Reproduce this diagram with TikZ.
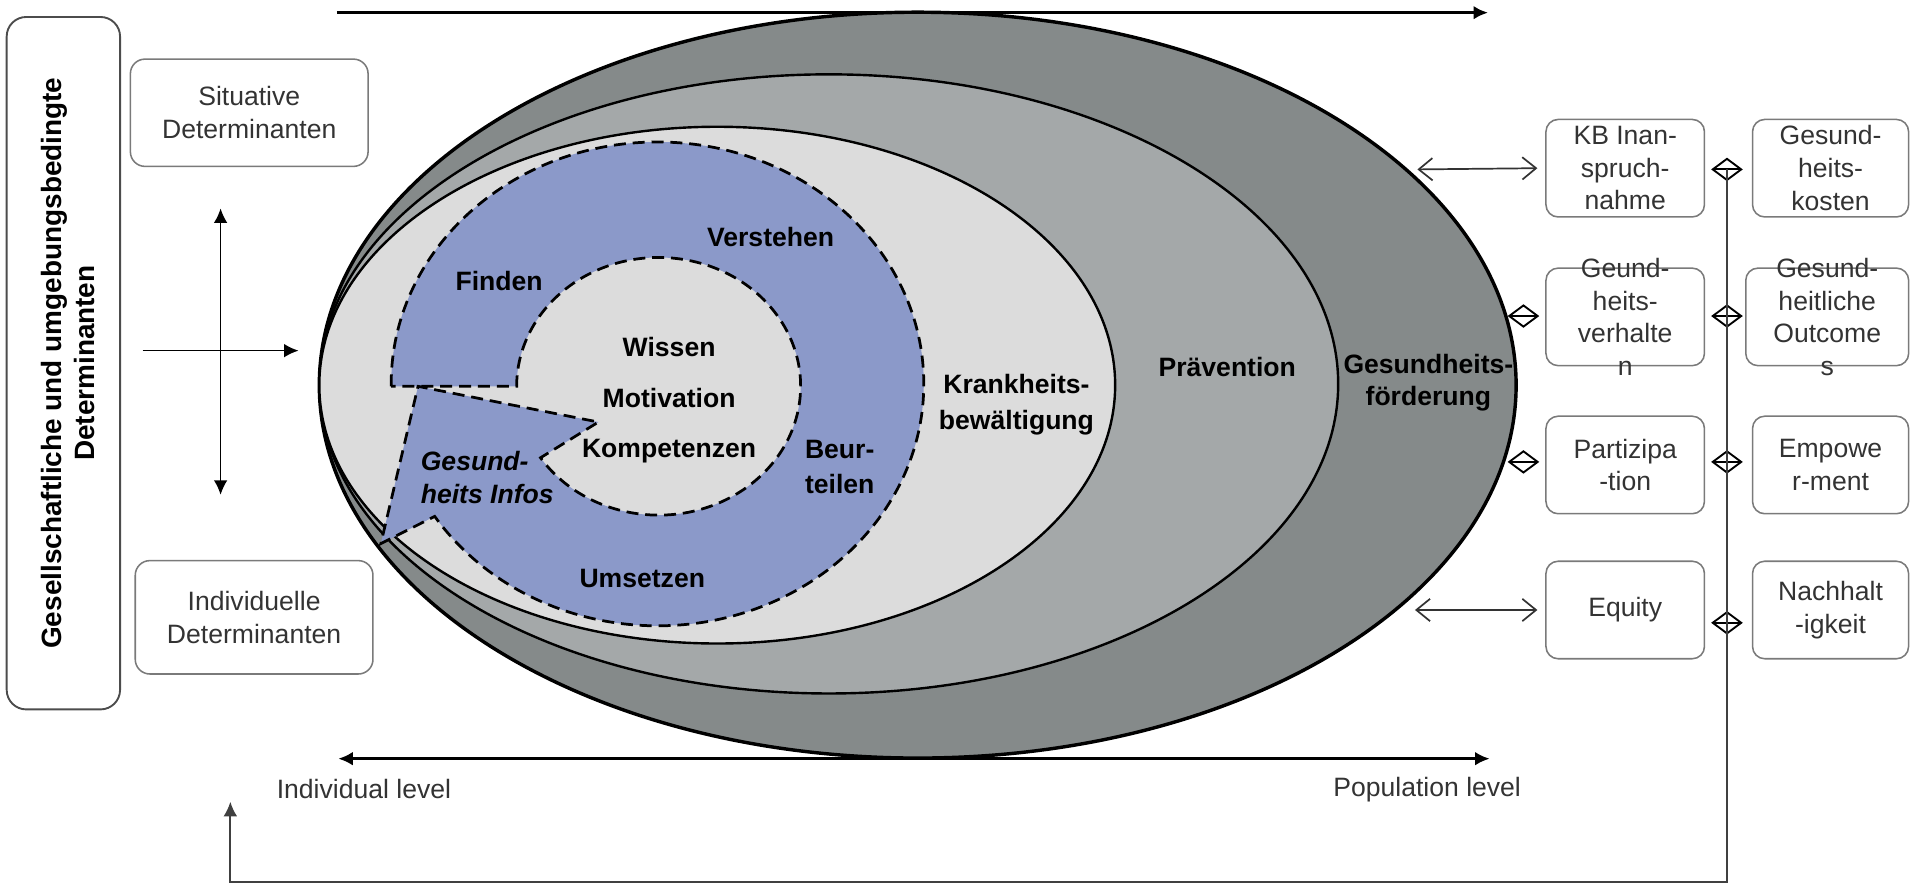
\documentclass[tikz,border=0pt]{standalone}
\usepackage{fontspec}
\setmainfont{Liberation Sans}
\usetikzlibrary{arrows.meta,shapes.geometric,positioning}

\definecolor{dgray}{HTML}{858A8A}
\definecolor{mgray}{HTML}{A4A8A9}
\definecolor{lgray}{HTML}{DCDCDC}
\definecolor{ringblue}{HTML}{8B99C9}
\definecolor{txtgray}{HTML}{333333}
\definecolor{boxgray}{HTML}{7A7A7A}

\begin{document}
\begin{tikzpicture}[x=0.025cm, y=-0.025cm,
        lbox/.style   = {draw=boxgray, line width=0.9pt, rounded corners=0.3cm, minimum width=4.875cm, minimum height=2.2cm, align=center, text=txtgray, font=\fontsize{15.5}{19.1}\selectfont},
        rbox/.style   = {draw=boxgray, line width=0.9pt, rounded corners=0.25cm, minimum width=3.25cm, minimum height=2cm, inner sep=0pt},
        rtext/.style  = {align=center, text=txtgray, font=\fontsize{15.5}{19.1}\selectfont, inner sep=0pt},
        bold label/.style = {align=center, font=\bfseries\fontsize{15.5}{19.1}\selectfont, inner sep=0pt},
        level text/.style = {text=txtgray, font=\fontsize{15.5}{19.1}\selectfont, inner sep=0pt},
        dmark/.style  = {draw, diamond, line width=1.1pt, minimum width=0.6cm, minimum height=0.45cm, inner sep=0pt,
                         path picture={\draw[line width=1.1pt] (path picture bounding box.west) -- (path picture bounding box.east);}},
        axis/.style   = {line width=1.75pt},
        thinarr/.style = {line width=1pt},
        openarr/.style = {line width=1pt, draw=txtgray, {Straight Barb[length=8pt,width=13pt]}-{Straight Barb[length=8pt,width=13pt]}},
        fbline/.style = {line width=1.2pt, draw=black!75},
        >={Latex[length=8.5pt,width=8pt]}]

        \useasboundingbox (0,0) rectangle (1568,725);

        % gray ellipses, all touching at the left
        \filldraw[fill=dgray, line width=2pt] (753,316) ellipse [x radius=491, y radius=306];
        \filldraw[fill=mgray, line width=1.4pt] (680,315) ellipse [x radius=418, y radius=254];
        \filldraw[fill=lgray, line width=1.4pt] (588.5,316) ellipse [x radius=326.5, y radius=212];

        % blue ring arrow
        \filldraw[fill=ringblue, line width=1.6pt, dash pattern=on 7pt off 4pt]
            (321,317) arc[start angle=179.42, end angle=506.8, x radius=218.5, y radius=198.5]
            -- (312.5,446) -- (343,317) -- (491,346.3) -- (443.5,375.6)
            arc[start angle=506.3, end angle=180, x radius=116.5, y radius=105.7] -- cycle;

        % labels in the ring
        \node[bold label] (finden) at (409.5,230.2) {Finden};
        \node[bold label] (verst) at (632.3,194.3) {Verstehen};
        \node[bold label, font=\bfseries\fontsize{15.5}{29.4}\selectfont] (wmk) at (549,328.5) {Wissen\\Motivation\\Kompetenzen};
        \node[bold label, align=left, font=\bfseries\fontsize{15.5}{20.2}\selectfont] (beur) at (689,383) {Beur-\\teilen};
        \node[bold label, align=left, anchor=west, font=\bfseries\itshape\fontsize{15.5}{19.4}\selectfont] (infos) at (345,392) {Gesund-\\heits Infos};
        \node[bold label] (umsetz) at (527,475) {Umsetzen};

        % labels of the ellipses
        \node[bold label, font=\bfseries\fontsize{15.5}{21.3}\selectfont] (krank) at (834,332) {Krankheits-\\bewältigung};
        \node[bold label] (praev) at (1007,301) {Prävention};
        \node[bold label] (foerd) at (1172,314) {Gesundheits-\\förderung};

        % determinants on the left
        \node[draw=black!70, line width=1.1pt, rounded corners=0.4cm, minimum width=14.2cm, minimum height=2.325cm, rotate=90] (gesell) at (52,298) {};
        \node[rotate=90, align=center, inner sep=0pt, font=\bfseries\fontsize{16.3}{19.4}\selectfont] (gesellT) at (56,298) {Gesellschaftliche und umgebungsbedingte\\Determinanten};
        \node[lbox] (situ) at (204.5,92.5) {Situative\\Determinanten};
        \node[lbox, minimum height=2.325cm] (indiv) at (208.5,506.5) {Individuelle\\Determinanten};

        \coordinate (crossL) at (117,287.7);
        \coordinate (crossR) at (245,287.7);
        \coordinate (crossT) at (181,171);
        \coordinate (crossB) at (181,406);
        \draw[thinarr, ->] (crossL) -- (crossR);
        \draw[thinarr, <->] (crossT) -- (crossB);

        % individual and population axis
        \coordinate (topL) at (276.5,10.4);
        \coordinate (topR) at (1221,10.4);
        \draw[axis, ->] (topL) -- (topR);
        \coordinate (levL) at (277.5,622.5);
        \coordinate (levR) at (1222.3,622.5);
        \draw[axis, <->] (levL) -- (levR);
        \node[level text] (indlev) at (298.6,647.5) {Individual level};
        \node[level text] (poplev) at (1171,647.5) {Population level};

        % outcomes on the right
        \node[rbox, label={[rtext]center:{KB Inan-\\spruch-\\nahme}}] (inan) at (1333.5,138) {};
        \node[rbox, label={[rtext]center:{Geund-\\heits-\\verhalte\\n}}] (verh) at (1333.5,260) {};
        \node[rbox, label={[rtext]center:{Partizipa\\-tion}}] (partiz) at (1333.5,381.5) {};
        \node[rbox, label={[rtext]center:{Equity}}] (equity) at (1333.5,500.5) {};

        \node[rbox, minimum width=3.2cm, label={[rtext]center:{Gesund-\\heits-\\kosten}}] (kost) at (1502,138) {};
        \node[rbox, minimum width=3.34cm, label={[rtext]center:{Gesund-\\heitliche\\Outcome\\s}}] (outc) at (1499.25,260) {};
        \node[rbox, minimum width=3.2cm, label={[rtext]center:{Empowe\\r-ment}}] (empow) at (1502,381.5) {};
        \node[rbox, minimum width=3.2cm, label={[rtext]center:{Nachhalt\\-igkeit}}] (nachh) at (1502,500.5) {};

        % links between ellipse and outcomes
        \coordinate (inanL) at (1163,139);
        \coordinate (equityL) at (1161,500.5);
        \draw[openarr] (inanL) -- ([xshift=-0.16cm]inan.west);
        \draw[openarr] (equityL) -- ([xshift=-0.16cm]equity.west);
        \node[dmark] (dl1) at (1250,259.3) {};
        \node[dmark] (dl2) at (1250,379) {};

        \foreach \y [count=\i] in {139,259.3,379,511}
        \node[dmark] (dm\i) at (1417,\y) {};

        % feedback line back to the determinants
        \coordinate (fbcorner) at (1417,723.8);
        \coordinate (fbtip) at (189,657.8);
        \draw[fbline, ->] (dm1.center) -- (fbcorner) -| (fbtip);

    \end{tikzpicture}
\end{document}
